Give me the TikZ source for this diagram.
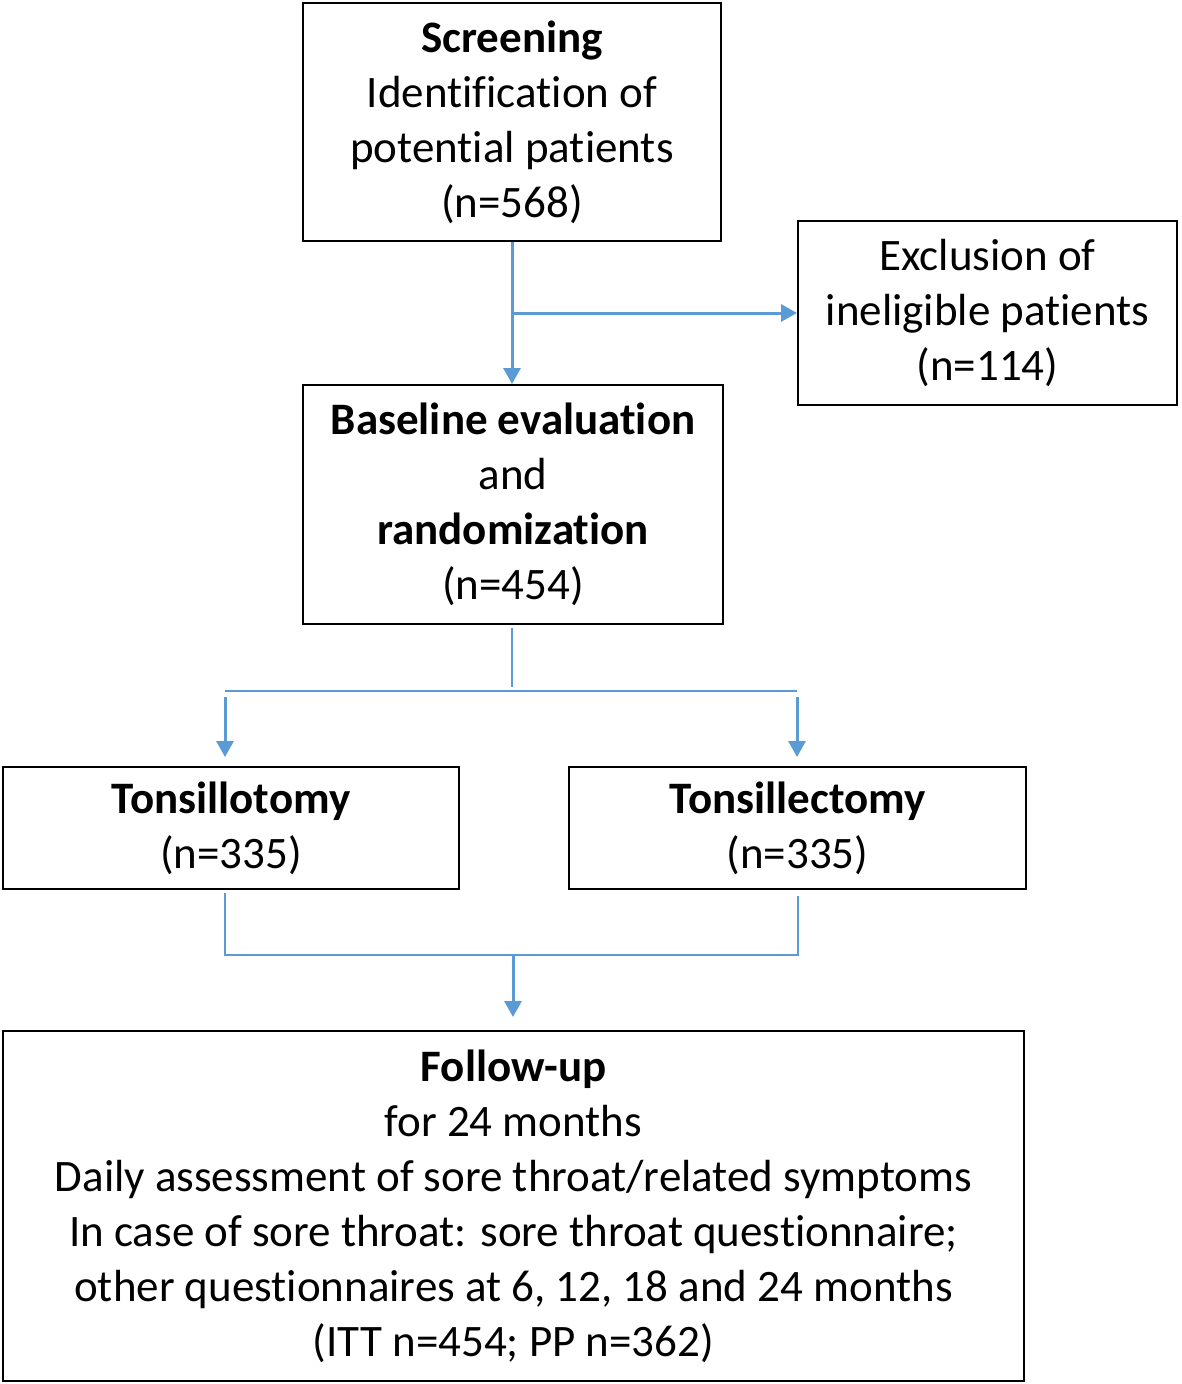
\documentclass[tikz,border=0pt]{standalone}
\usepackage{fontspec}
\setmainfont[RawFeature=-liga]{Carlito}
\usetikzlibrary{arrows.meta}
\definecolor{flowblue}{HTML}{5B9BD5}
\begin{document}
\begin{tikzpicture}[x=1pt,y=-1pt,
  box/.style={draw=black,line width=2pt,align=center,inner sep=0pt,
    font=\fontsize{45}{55}\selectfont},
  arr/.style={draw=flowblue,line width=3pt,-{Triangle[length=16pt,width=17pt]}},
  thinline/.style={draw=flowblue,line width=1.5pt}]
\useasboundingbox (0,0) rectangle (1181,1384);
\fill[white] (0,0) rectangle (1181,1384);

\node[box,minimum width=418pt,minimum height=238pt] (scr) at (512,122)
  {\textbf{Screening}\\ Identification of\\ potential patients\\ (n=568)};
\node[box,minimum width=379pt,minimum height=184pt] (exc) at (987.5,313)
  {Exclusion of\\ ineligible patients\\ (n=114)};
\node[box,minimum width=420pt,minimum height=239pt] (base) at (513,504.5)
  {\textbf{Baseline evaluation}\\ and\\ \textbf{randomization}\\ (n=454)};
\node[box,minimum width=456pt,minimum height=122pt] (tto) at (231,828)
  {\textbf{Tonsillotomy}\\ (n=335)};
\node[box,minimum width=457pt,minimum height=122pt] (tte) at (797.5,828)
  {\textbf{Tonsillectomy}\\ (n=335)};
\node[box,minimum width=1021pt,minimum height=350pt] (fu) at (513.5,1206)
  {\textbf{Follow-up}\\ for 24 months\\ Daily assessment of sore throat/related symptoms\\
   In case of sore throat: sore throat questionnaire;\\
   other questionnaires at 6, 12, 18 and 24 months\\ (ITT n=454; PP n=362)};

% screening -> baseline and exclusion
\coordinate (j1) at (512,313);
\draw[arr] (scr.south -| j1) -- (base.north -| j1);
\draw[arr] (j1) -- (exc.west);

% baseline -> arms
\coordinate (b1) at (512,628);
\coordinate (b2) at (512,687);
\coordinate (hl) at (225,691);
\coordinate (hr) at (797,691);
\coordinate (al) at (225,697);
\coordinate (ar) at (797,697);
\coordinate (tl) at (225,757);
\coordinate (tr) at (797,757);
\draw[thinline] (b1) -- (b2);
\draw[thinline] (hl) -- (hr);
\draw[arr] (al) -- (tl);
\draw[arr] (ar) -- (tr);

% arms -> follow-up
\coordinate (l1) at (225,893);
\coordinate (r1) at (798,896);
\coordinate (l2) at (225,955);
\coordinate (r2) at (798,955);
\coordinate (m1) at (513,955);
\coordinate (m2) at (513,1017);
\draw[thinline] (l1) -- (l2) -- (r2) -- (r1);
\draw[arr] (m1) -- (m2);
\end{tikzpicture}
\end{document}
